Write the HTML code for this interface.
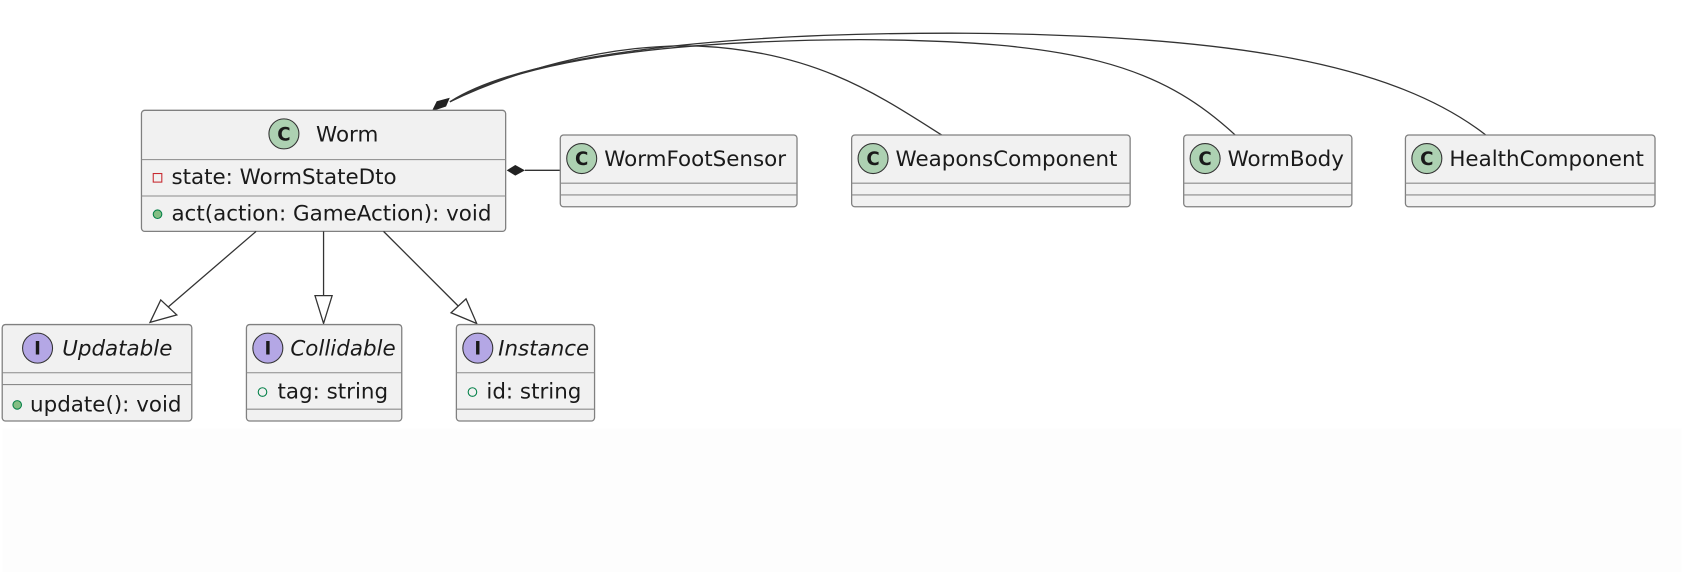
<!DOCTYPE html>
<html><head><meta charset="utf-8"><style>
html,body{margin:0;padding:0;background:#fff;}
svg{display:block;}
text{font-family:"DejaVu Sans","Liberation Sans",sans-serif;font-size:20px;fill:#1a1a1a;}
.b{fill:#f1f1f1;stroke:#808080;stroke-width:1.2;}
.d{stroke:#8a8a8a;stroke-width:1;fill:none;}
.l{stroke:#333;stroke-width:1.2;fill:none;}
.c{font-size:17px;font-weight:bold;}
</style></head><body>
<svg width="1684" height="572" viewBox="0 0 1568 534" xmlns="http://www.w3.org/2000/svg">
<rect width="1568" height="534" fill="#fff"/>
<rect y="400" width="1568" height="134" fill="#fdfdfd"/>
<path class="l" d="M418,95 C470,70 560,40 650,43 C760,48 820,90 877,126"/>
<path class="l" d="M418,95 C480,60 600,38 800,37 C1000,38 1080,60 1151,126"/>
<path class="l" d="M418,95 C480,55 650,30 900,31 C1150,33 1300,60 1385,126"/>
<polygon points="402,103 406,95 417,92 414,99" fill="#222" stroke="#222"/>
<rect class="b" x="130" y="103" width="340" height="113" rx="3"/>
<line class="d" x1="130" y1="149" x2="470" y2="149"/>
<line class="d" x1="130" y1="183" x2="470" y2="183"/>
<circle cx="263" cy="125" r="14" fill="#add1b2" stroke="#333"/>
<text x="263" y="131" text-anchor="middle" class="c">C</text>
<text x="293" y="132">Worm</text>
<rect x="141" y="162" width="8" height="8" fill="none" stroke="#c82930"/>
<text x="158" y="172">state: WormStateDto</text>
<circle cx="145" cy="200" r="4" fill="#84be84" stroke="#038048"/>
<text x="158" y="206">act(action: GameAction): void</text>
<line class="l" x1="488" y1="159" x2="521" y2="159"/>
<polygon points="471,159 479,154 488,159 479,164" fill="#222"/>
<g>
<rect class="b" x="521" y="126" width="221" height="67" rx="3"/>
<line class="d" x1="521" y1="171" x2="742" y2="171"/><line class="d" x1="521" y1="182" x2="742" y2="182"/>
<circle cx="541" cy="148" r="14" fill="#add1b2" stroke="#333"/>
<text x="541" y="154" text-anchor="middle" class="c">C</text>
<text x="562" y="155">WormFootSensor</text>
</g>
<g>
<rect class="b" x="793" y="126" width="260" height="67" rx="3"/>
<line class="d" x1="793" y1="171" x2="1053" y2="171"/><line class="d" x1="793" y1="182" x2="1053" y2="182"/>
<circle cx="813" cy="148" r="14" fill="#add1b2" stroke="#333"/>
<text x="813" y="154" text-anchor="middle" class="c">C</text>
<text x="834" y="155">WeaponsComponent</text>
</g>
<g>
<rect class="b" x="1103" y="126" width="157" height="67" rx="3"/>
<line class="d" x1="1103" y1="171" x2="1260" y2="171"/><line class="d" x1="1103" y1="182" x2="1260" y2="182"/>
<circle cx="1123" cy="148" r="14" fill="#add1b2" stroke="#333"/>
<text x="1123" y="154" text-anchor="middle" class="c">C</text>
<text x="1144" y="155">WormBody</text>
</g>
<g>
<rect class="b" x="1310" y="126" width="233" height="67" rx="3"/>
<line class="d" x1="1310" y1="171" x2="1543" y2="171"/><line class="d" x1="1310" y1="182" x2="1543" y2="182"/>
<circle cx="1330" cy="148" r="14" fill="#add1b2" stroke="#333"/>
<text x="1330" y="154" text-anchor="middle" class="c">C</text>
<text x="1351" y="155">HealthComponent</text>
</g>
<line class="l" x1="237" y1="216" x2="151" y2="290"/>
<polygon points="138,301 148,280 163,294" fill="#fff" stroke="#333" stroke-width="1.2"/>
<line class="l" x1="300" y1="216" x2="300" y2="277"/>
<polygon points="300,302 292,276 308,276" fill="#fff" stroke="#333" stroke-width="1.2"/>
<line class="l" x1="356" y1="216" x2="430" y2="290"/>
<polygon points="443,302 419,292 433,279" fill="#fff" stroke="#333" stroke-width="1.2"/>
<g>
<rect class="b" x="0" y="303" width="177" height="90" rx="3"/>
<line class="d" x1="0" y1="348" x2="177" y2="348"/><line class="d" x1="0" y1="359" x2="177" y2="359"/>
<circle cx="33" cy="325" r="14" fill="#b4a7e5" stroke="#333"/>
<text x="33" y="331" text-anchor="middle" class="c">I</text>
<text x="56" y="332" font-style="italic">Updatable</text>
<circle cx="14" cy="378" r="4" fill="#84be84" stroke="#038048"/>
<text x="26" y="384">update(): void</text>
</g>
<g>
<rect class="b" x="228" y="303" width="145" height="90" rx="3"/>
<line class="d" x1="228" y1="348" x2="373" y2="348"/><line class="d" x1="228" y1="382" x2="373" y2="382"/>
<circle cx="248" cy="325" r="14" fill="#b4a7e5" stroke="#333"/>
<text x="248" y="331" text-anchor="middle" class="c">I</text>
<text x="269" y="332" font-style="italic">Collidable</text>
<circle cx="243" cy="366" r="4" fill="none" stroke="#038048"/>
<text x="257" y="372">tag: string</text>
</g>
<g>
<rect class="b" x="424" y="303" width="129" height="90" rx="3"/>
<line class="d" x1="424" y1="348" x2="553" y2="348"/><line class="d" x1="424" y1="382" x2="553" y2="382"/>
<circle cx="444" cy="325" r="14" fill="#b4a7e5" stroke="#333"/>
<text x="444" y="331" text-anchor="middle" class="c">I</text>
<text x="463" y="332" font-style="italic">Instance</text>
<circle cx="439" cy="366" r="4" fill="none" stroke="#038048"/>
<text x="452" y="372">id: string</text>
</g>
</svg>
</body></html>
